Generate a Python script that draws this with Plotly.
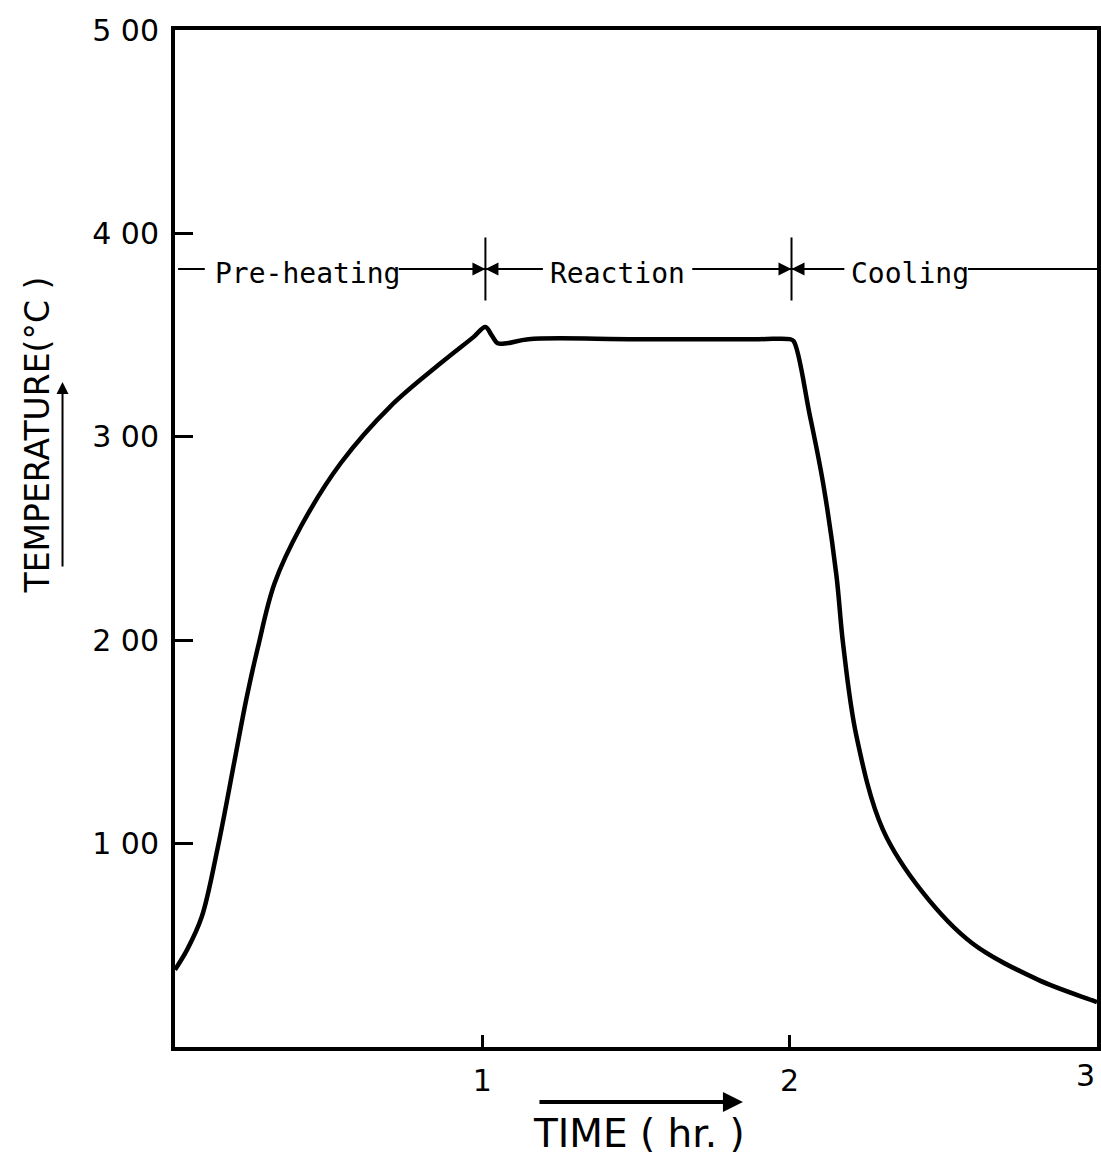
import plotly.graph_objects as go

# ---- data ----
time_hr = [0.0, 0.04, 0.087, 0.139, 0.194, 0.232, 0.269, 0.324, 0.41, 0.539, 0.701,
           0.863, 0.971, 1.01, 1.03, 1.05, 1.08, 1.15, 1.5, 1.9, 2.0, 2.013,
           2.065, 2.109, 2.152, 2.174, 2.217, 2.303, 2.433, 2.594, 2.809, 2.983, 3.0]
temp_c = [38, 48, 64, 98, 141, 171, 196, 228, 256, 287, 315,
          336, 349, 354, 350, 346, 346, 348, 348, 348, 348, 347,
          311, 277, 232, 198, 153, 107, 76, 51, 33, 23, 22]

x_tick_vals = [1, 2, 3]
x_tick_text = ["1", "2", "3"]
y_tick_vals = [100, 200, 300, 400, 500]
y_tick_text = ["1 00", "2 00", "3 00", "4 00", "5 00"]

phase_names = ["Pre-heating", "Reaction", "Cooling"]
phase_bounds = [1.01, 2.006]
phase_level = 382.5

FONT = "DejaVu Sans"
MONO = "DejaVu Sans Mono"

fig = go.Figure()
fig.add_trace(go.Scatter(
    x=time_hr, y=temp_c, mode="lines",
    line=dict(color="black", width=4.5, shape="spline", smoothing=1.0),
    hoverinfo="skip", showlegend=False,
))

fig.update_layout(
    width=1101, height=1155,
    margin=dict(l=175, r=0, t=30, b=108),
    paper_bgcolor="white", plot_bgcolor="white",
    showlegend=False,
    xaxis=dict(range=[0, 3], tickvals=x_tick_vals[:2], ticktext=x_tick_text[:2],
               ticks="inside", ticklen=12, tickwidth=3, tickcolor="black",
               showline=True, linewidth=4, linecolor="black", mirror=True,
               showgrid=False, zeroline=False, ticklabelstandoff=4,
               tickfont=dict(family=FONT, size=30, color="black")),
    yaxis=dict(range=[0, 500], tickvals=y_tick_vals, ticktext=y_tick_text,
               ticks="inside", ticklen=18, tickwidth=3, tickcolor="black",
               showline=True, linewidth=4, linecolor="black", mirror=True,
               showgrid=False, zeroline=False, ticklabelstandoff=6,
               tickfont=dict(family=FONT, size=30, color="black")),
)

# last x tick label sits at the right edge
fig.add_annotation(x=x_tick_vals[2], y=-0.028, xref="x", yref="paper",
                   text=x_tick_text[2], showarrow=False, xanchor="right",
                   yanchor="middle", font=dict(family=FONT, size=30, color="black"))

# phase labels
label_x = [0.43, 1.44, 2.39]
for name, lx in zip(phase_names, label_x):
    fig.add_annotation(x=lx, y=phase_level - 2, text=name, showarrow=False,
                       xref="x", yref="y", xanchor="center", yanchor="middle",
                       font=dict(family=MONO, size=28, color="black"))

# phase separator lines
segs = [(0.01, 0.097), (0.728, phase_bounds[0]), (phase_bounds[0], 1.197),
        (1.683, phase_bounds[1]), (phase_bounds[1], 2.178), (2.58, 3.0)]
for x0, x1 in segs:
    fig.add_shape(type="line", x0=x0, x1=x1, y0=phase_level, y1=phase_level,
                  xref="x", yref="y", line=dict(color="black", width=2))
for b in phase_bounds:
    fig.add_shape(type="line", x0=b, x1=b, y0=367, y1=398, xref="x", yref="y",
                  line=dict(color="black", width=2))
    for side in (-1, 1):
        fig.add_annotation(x=b, y=phase_level, ax=b + side * 0.08, ay=phase_level,
                           axref="x", ayref="y", xref="x", yref="y", text="",
                           showarrow=True, arrowhead=2, arrowsize=1.3,
                           arrowwidth=2, arrowcolor="black")

# y title
fig.add_annotation(x=-0.149, y=0.602, xref="paper", yref="paper",
                   xanchor="center", yanchor="middle",
                   text="TEMPERATURE(°C )", textangle=-90, showarrow=False,
                   font=dict(family=FONT, size=33, color="black"))
fig.add_annotation(x=-0.122, y=0.654, xref="paper", yref="paper",
                   ax=0, ay=186, text="", showarrow=True, arrowhead=2,
                   arrowsize=1.2, arrowwidth=2, arrowcolor="black")

# x title
fig.add_annotation(x=0.503, y=-0.0855, xref="paper", yref="paper",
                   xanchor="center", yanchor="middle",
                   text="TIME ( hr. )", showarrow=False,
                   font=dict(family=FONT, size=39, color="black"))
fig.add_annotation(x=0.616, y=-0.054, xref="paper", yref="paper",
                   ax=-205, ay=0, text="", showarrow=True, arrowhead=2,
                   arrowsize=1.0, arrowwidth=4, arrowcolor="black")

fig.write_html("out.html")
